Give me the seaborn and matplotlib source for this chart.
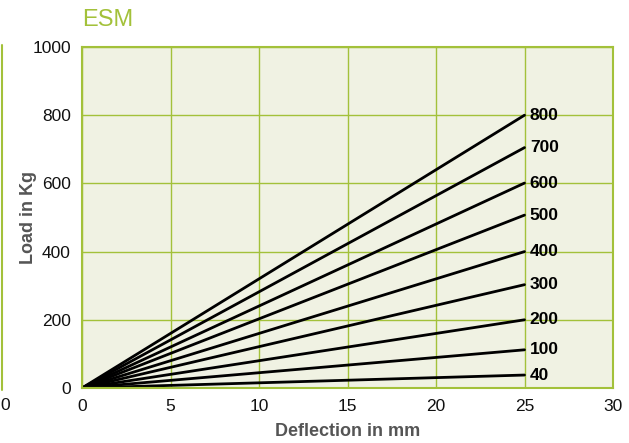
import matplotlib
matplotlib.use("Agg")
import matplotlib.pyplot as plt
import seaborn as sns
import pandas as pd
import numpy as np
from matplotlib import font_manager

sns.set_theme(style="white")

names = [f.name for f in font_manager.fontManager.ttflist]
cond = "Liberation Sans Narrow" if "Liberation Sans Narrow" in names else "Liberation Sans"
plt.rcParams['font.family'] = [cond, 'DejaVu Sans']

# Data
series_labels = ["800", "700", "600", "500", "400", "300", "200", "100", "40"]
end_loads = [800, 705, 601, 507, 400, 303, 200, 112, 38]
deflection = [0, 25]
x_ticks = [0, 5, 10, 15, 20, 25, 30]
y_ticks = [0, 200, 400, 600, 800, 1000]

rows = []
for lab, v in zip(series_labels, end_loads):
    rows.append({"series": lab, "x": deflection[0], "y": 0})
    rows.append({"series": lab, "x": deflection[1], "y": v})
df = pd.DataFrame(rows)

green = "#a3c13a"
bg = "#f0f2e3"

fig = plt.figure(figsize=(6.29, 4.43), dpi=100)
ax = fig.add_axes([82/629, 1-388/443, (613-82)/629, (388-47)/443])
ax.set_facecolor(bg)

sns.lineplot(data=df, x="x", y="y", units="series", estimator=None,
             color="black", lw=2, ax=ax, legend=False)

ax.set_xlim(0, 30)
ax.set_ylim(0, 1000)
ax.set_xticks(x_ticks)
ax.set_yticks(y_ticks)
ax.set_xticklabels([str(t) for t in x_ticks], fontsize=12.5)
ax.set_yticklabels([str(t) for t in y_ticks], fontsize=12.5)
ax.tick_params(axis='both', length=0, pad=8, colors="#111111")
ax.grid(True, color=green, lw=1)
ax.set_axisbelow(True)
for s in ax.spines.values():
    s.set_color(green)
    s.set_linewidth(1.5)

ax.set_xlabel("Deflection in mm", fontsize=13, fontweight="bold", color="#555555",
              family=["Liberation Sans", "DejaVu Sans"])
ax.set_ylabel("Load in Kg", fontsize=13, fontweight="bold", color="#555555",
              family=["Liberation Sans", "DejaVu Sans"])
ax.xaxis.set_label_coords(0.5, (388-423)/341)
ax.yaxis.set_label_coords((37-82)/531, 0.5)

for lab, v in zip(series_labels, end_loads):
    ax.text(25.3, v, lab, fontsize=12.5, fontweight="bold", color="black",
            va="center", ha="left")

fig.text(82/629, 1-20/443, "ESM", fontsize=17, color=green, va="center", ha="left",
         family=["Liberation Sans", "DejaVu Sans"])

# stray elements at left edge
fig.add_artist(plt.Line2D([1.5/629, 1.5/629], [1-390/443, 1-45/443], color=green, lw=1.5))
fig.text(5/629, 1-405/443, "0", fontsize=12.5, color="#111111", va="center", ha="center")

fig.savefig("out.png", dpi=100)
